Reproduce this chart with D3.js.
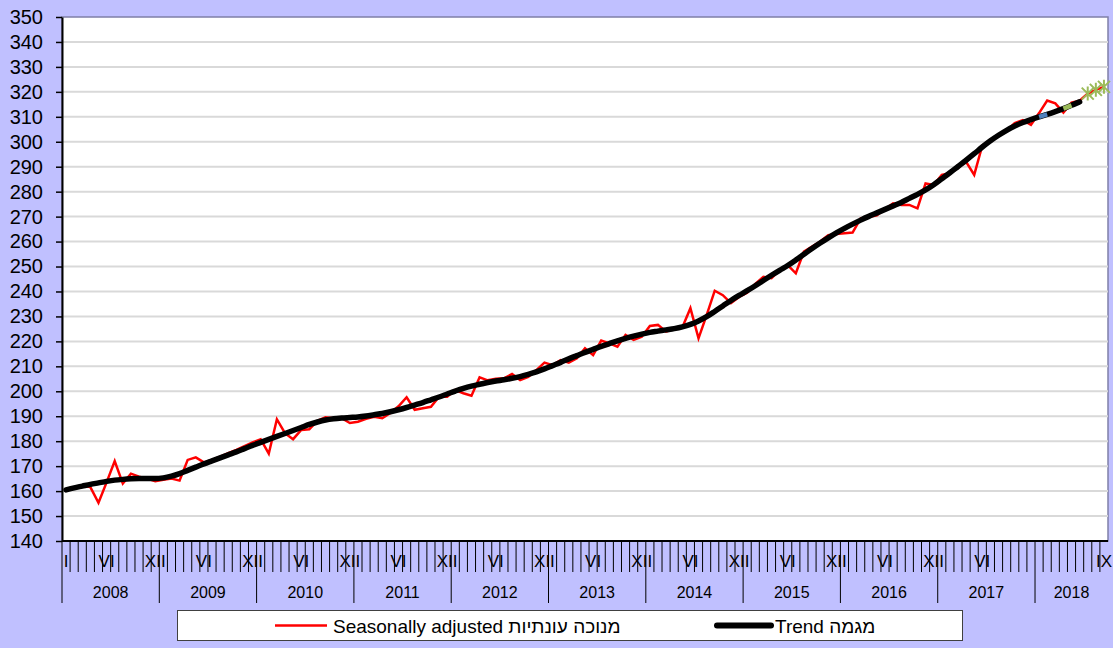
<!DOCTYPE html>
<html>
<head>
<meta charset="utf-8">
<script src="https://cdn.jsdelivr.net/npm/d3@7"></script>
<style>
  body { margin: 0; background: #c0c0ff; }
  svg { display: block; font-family: "Liberation Sans", Arial, sans-serif; }
</style>
</head>
<body>
<svg id="chart" width="1113" height="648"></svg>
<script>
// categories: monthly, Jan 2008 .. Sep 2018
const years = [2008, 2009, 2010, 2011, 2012, 2013, 2014, 2015, 2016, 2017, 2018];
const monthsLastYear = 9;
// which months carry a roman label on the axis  [month index, label]
const monthTickLabels = [
  [0, "I"], [5, "VI"], [11, "XII"], [17, "VI"], [23, "XII"], [29, "VI"], [35, "XII"],
  [41, "VI"], [47, "XII"], [53, "VI"], [59, "XII"], [65, "VI"], [71, "XII"], [77, "VI"],
  [83, "XII"], [89, "VI"], [95, "XII"], [101, "VI"], [107, "XII"], [113, "VI"], [128, "IX"]
];

const seasonallyAdjusted = [
  160.4, 161.5, 162.0, 161.6, 155.3, 163.5, 172.0, 163.0, 167.0, 165.8, 165.0, 164.0,
  164.5, 165.0, 164.2, 172.5, 173.5, 171.5, 172.5, 173.8, 175.2, 176.5, 178.0, 179.5,
  180.8, 175.0, 188.8, 183.2, 180.8, 184.5, 184.8, 188.2, 189.6, 189.2, 189.2, 187.3,
  187.8, 189.0, 189.8, 189.2, 191.3, 194.0, 197.6, 192.6, 193.2, 193.8, 197.8, 197.8,
  200.5, 199.2, 198.2, 205.6, 204.4, 205.0, 205.2, 206.9, 204.5, 205.8, 208.5, 211.5,
  210.5, 212.5, 211.5, 213.2, 217.2, 214.5, 220.3, 219.2, 217.9, 222.6, 220.6, 221.9,
  226.2, 226.6, 223.9, 225.0, 225.6, 233.3, 221.2, 230.5, 240.3, 238.5, 235.3, 237.8,
  239.5, 243.0, 245.9, 245.3, 248.6, 250.6, 247.3, 256.0, 258.0, 260.0, 262.6, 263.0,
  263.3, 263.6, 269.3, 269.8, 270.5, 273.0, 275.3, 274.7, 274.7, 273.3, 283.3, 282.7,
  286.7, 287.4, 289.5, 292.0, 286.7, 298.5, 300.8, 302.5, 304.5, 307.5, 308.7, 306.8,
  311.5, 316.5, 315.4, 311.7, 315.7, 316.5, 319.3, 320.8, 322.0
];

const trend = [
  160.5, 161.3, 162.0, 162.7, 163.3, 163.9, 164.4, 164.7, 164.9, 165.0, 165.0, 165.0,
  165.3, 166.0, 167.0, 168.3, 169.6, 170.9, 172.1, 173.3, 174.5, 175.7, 177.0, 178.3,
  179.5, 180.7, 181.9, 183.1, 184.3, 185.5, 186.7, 187.7, 188.5, 189.0, 189.3, 189.5,
  189.7, 190.1, 190.6, 191.1, 191.8, 192.6, 193.5, 194.5, 195.5, 196.6, 197.7, 198.9,
  200.1, 201.2, 202.1, 202.8, 203.5, 204.1, 204.6, 205.2, 205.9, 206.8, 207.8, 209.0,
  210.3, 211.6, 213.0, 214.3, 215.6, 216.8, 218.0, 219.1, 220.2, 221.2, 222.1, 222.9,
  223.6, 224.1, 224.6, 225.1, 225.8, 226.8, 228.2, 229.9, 232.0, 234.2, 236.4, 238.4,
  240.3, 242.3, 244.4, 246.5, 248.5, 250.4, 252.6, 254.9, 257.2, 259.4, 261.5, 263.5,
  265.3, 267.0, 268.6, 270.1, 271.5, 272.9, 274.3, 275.7, 277.3, 278.9, 280.7, 282.8,
  285.2, 287.6, 290.1, 292.6, 295.2, 297.9, 300.4, 302.6, 304.6, 306.3, 307.7, 308.9,
  310.0, 311.0, 312.1, 313.3, 314.6, 316.0
];

// provisional months marked with stars, and trend pieces drawn in other colours
const provisionalFrom = 126;
const trendBluePiece = [120, 121];
const trendGreenPiece = [123, 124];

const yTicks = d3.range(140, 351, 10);

// ---- build
const months = [];
years.forEach((yr, k) => {
  const n = k === years.length - 1 ? monthsLastYear : 12;
  for (let m = 0; m < n; m++) months.push({ year: yr, month: m, i: months.length });
});

const svg = d3.select("#chart");
const plot = { left: 62, right: 1108, top: 17, bottom: 541 };

const x = d3.scaleBand()
    .domain(months.map(d => d.i))
    .range([plot.left, plot.right]);
const bw = x.bandwidth();
const cx = i => x(i) + bw / 2;

const y = d3.scaleLinear()
    .domain([140, 350])
    .range([plot.bottom, plot.top]);

// plot area
svg.append("rect")
    .attr("x", plot.left).attr("y", plot.top)
    .attr("width", plot.right - plot.left).attr("height", plot.bottom - plot.top)
    .attr("fill", "#fff")
    .attr("stroke", "#7f7fa8").attr("stroke-width", 1.5);

// grid
svg.append("g")
  .selectAll("line")
  .data(yTicks.slice(1, -1))
  .join("line")
    .attr("x1", plot.left).attr("x2", plot.right)
    .attr("y1", d => y(d)).attr("y2", d => y(d))
    .attr("stroke", "#d9d9d9").attr("stroke-width", 2);

// y axis
const yAxis = svg.append("g")
    .attr("transform", `translate(${plot.left},0)`)
    .call(d3.axisLeft(y).tickValues(yTicks).tickSize(6).tickPadding(13).tickSizeOuter(0));
yAxis.select(".domain").attr("stroke", "#000").attr("stroke-width", 2);
yAxis.selectAll(".tick line").attr("stroke", "#000").attr("stroke-width", 1.5);
yAxis.selectAll("text")
    .attr("fill", "#000")
    .style("font-size", "20px")
    .style("font-family", "\"Liberation Sans\", Arial, sans-serif");

// category axis
const xAxisG = svg.append("g");
xAxisG.append("line")
    .attr("x1", plot.left).attr("x2", plot.right)
    .attr("y1", plot.bottom).attr("y2", plot.bottom)
    .attr("stroke", "#000").attr("stroke-width", 2);

xAxisG.append("g")
  .selectAll("line")
  .data(months.slice(1).filter(d => d.month !== 0))
  .join("line")
    .attr("x1", d => x(d.i)).attr("x2", d => x(d.i))
    .attr("y1", plot.bottom).attr("y2", plot.bottom + 31)
    .attr("stroke", "#000").attr("stroke-width", 1);

xAxisG.append("g")
  .selectAll("line")
  .data(months.filter(d => d.month === 0))
  .join("line")
    .attr("x1", d => x(d.i)).attr("x2", d => x(d.i))
    .attr("y1", plot.bottom).attr("y2", plot.bottom + 62)
    .attr("stroke", "#000").attr("stroke-width", 1);

xAxisG.append("g")
  .selectAll("text")
  .data(monthTickLabels)
  .join("text")
    .attr("x", d => cx(d[0]))
    .attr("y", plot.bottom + 20)
    .attr("dy", "0.35em")
    .attr("text-anchor", "middle")
    .style("font-size", "17px")
    .text(d => d[1]);

xAxisG.append("g")
  .selectAll("text")
  .data(years)
  .join("text")
    .attr("x", yr => {
      const ms = months.filter(d => d.year === yr);
      return (x(ms[0].i) + x(ms[ms.length - 1].i) + bw) / 2;
    })
    .attr("y", plot.bottom + 51)
    .attr("dy", "0.35em")
    .attr("text-anchor", "middle")
    .style("font-size", "16px")
    .text(d => d);

// series
const line = d3.line().x(d => cx(d.i)).y(d => y(d.v));

svg.append("path")
    .datum(seasonallyAdjusted.map((v, i) => ({ i, v })))
    .attr("d", line)
    .attr("fill", "none")
    .attr("stroke", "#ff0000")
    .attr("stroke-width", 2.5)
    .attr("stroke-linejoin", "miter");

svg.append("path")
    .datum(trend.map((v, i) => ({ i, v })))
    .attr("d", d3.line().x(d => cx(d.i)).y(d => y(d.v)).curve(d3.curveMonotoneX))
    .attr("fill", "none")
    .attr("stroke", "#000")
    .attr("stroke-width", 5.5)
    .attr("stroke-linecap", "round");

[[trendBluePiece, "#4f81bd"], [trendGreenPiece, "#9bbb59"]].forEach(([piece, col]) => {
  svg.append("path")
      .datum(d3.range(piece[0], piece[1] + 1).map(i => ({ i, v: trend[i] })))
      .attr("d", line)
      .attr("fill", "none")
      .attr("stroke", col)
      .attr("stroke-width", 4.5);
});

// stars on provisional months
const stars = svg.append("g")
  .selectAll("g")
  .data(seasonallyAdjusted.map((v, i) => ({ i, v })).filter(d => d.i >= provisionalFrom))
  .join("g")
    .attr("transform", d => `translate(${cx(d.i)},${y(d.v)})`)
    .attr("stroke", "#9bbb59")
    .attr("stroke-width", 2);
stars.append("path").attr("d", "M-6,-6L6,6M-6,6L6,-6M0,-7L0,7");

// legend
const lg = svg.append("g");
lg.append("rect")
    .attr("x", 177.5).attr("y", 610.5).attr("width", 785).attr("height", 30)
    .attr("fill", "#fff").attr("stroke", "#404040").attr("stroke-width", 1);
lg.append("line")
    .attr("x1", 275).attr("x2", 327).attr("y1", 625.5).attr("y2", 625.5)
    .attr("stroke", "#ff0000").attr("stroke-width", 2.5);
lg.append("text")
    .attr("x", 333).attr("y", 626).attr("dy", "0.35em")
    .style("font-size", "19px")
    .text("Seasonally adjusted מנוכה עונתיות");
lg.append("line")
    .attr("x1", 717).attr("x2", 771).attr("y1", 625.5).attr("y2", 625.5)
    .attr("stroke", "#000").attr("stroke-width", 6).attr("stroke-linecap", "round");
lg.append("text")
    .attr("x", 775).attr("y", 626).attr("dy", "0.35em")
    .style("font-size", "19px")
    .text("Trend מגמה");
</script>
</body>
</html>
